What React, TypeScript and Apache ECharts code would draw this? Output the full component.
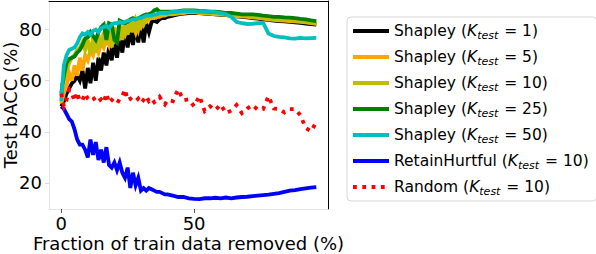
import React, { useEffect, useRef } from "react";
import * as echarts from "echarts";

const FONT = "DejaVu Sans";

const xValues = [
  0, 1, 2, 3, 4, 5, 6, 7, 8, 9, 10, 11, 12, 13, 14, 15, 16, 17, 18, 19, 20,
  21, 22, 23, 24, 25, 26, 27, 28, 29, 30, 31, 32, 33, 34, 35, 36, 37, 38, 39, 40,
  42, 44, 46, 48, 50, 52, 54, 56, 58, 60, 62, 64, 66, 68, 70, 72, 74, 76, 78,
  80, 82, 84, 86, 88, 90, 92, 94, 96,
];

const shapleyK1 = [
  50, 52, 55, 57, 59, 60, 62, 60, 64, 57, 65, 59, 67, 60, 69, 64, 71, 66, 73, 68, 75,
  69, 77, 71, 79, 73, 80, 74, 81, 75, 82, 75, 82.5, 79, 83, 83.5, 83, 84, 84.5, 84.5, 85,
  85.5, 86, 86.3, 86.5, 86.6, 86.5, 86.3, 86.2, 86, 85.8, 85.7, 85.5, 85.2, 85, 84.8, 84.5, 84.3, 84, 83.8,
  83.5, 83.3, 83.2, 83, 82.8, 82.6, 82.4, 82.2, 82,
];

const shapleyK5 = [
  51, 55, 58, 63, 60, 66, 62, 69, 64, 70, 68, 72, 70, 74, 71, 75, 73, 77, 74, 78, 76,
  79, 77, 80, 78, 81, 80, 82, 79, 83, 81, 83.5, 83, 84, 84.5, 84.5, 85, 85, 85.5, 85.5, 86,
  86, 86.3, 86.5, 86.8, 86.8, 86.5, 86.5, 86.3, 86, 86, 85.8, 85.5, 85.3, 85.2, 85, 84.8, 84.6, 84.3, 84,
  83.8, 83.6, 83.5, 83.3, 83.2, 83, 82.8, 82.5, 82.3,
];

const shapleyK10 = [
  58, 60, 64, 67, 69, 70, 72, 73, 75, 72, 76, 70, 77, 71, 78, 73, 79, 76, 80, 73, 81,
  75, 82, 76, 82.5, 78, 83, 79, 83.5, 80, 84, 82, 84.5, 84.5, 85, 85, 85.5, 85.5, 86, 86, 86,
  86.5, 86.5, 86.8, 87, 87, 86.8, 86.5, 86.5, 86.3, 86, 86, 85.8, 85.5, 85.5, 85.3, 85, 84.8, 84.5, 84.3,
  84, 84, 83.8, 83.6, 83.5, 83.3, 83, 82.7, 82.4,
];

const shapleyK25 = [
  55, 62, 67, 68.5, 69, 69.5, 71, 72, 74, 76.5, 77, 79, 77.5, 76, 79, 81, 82, 76, 82.5, 82, 76,
  75, 83.5, 83, 82.5, 83, 84, 84.5, 84, 84.5, 85, 85.5, 86, 86, 86.5, 87.5, 88, 87, 87, 87, 87,
  87, 87.2, 87.5, 87.5, 87.5, 87.3, 87.2, 87, 87, 86.8, 86.5, 86.5, 86.3, 86, 86, 86, 85.8, 85.5, 85.3,
  85, 85, 84.8, 84.7, 84.5, 84.2, 84, 83.6, 83.3,
];

const shapleyK50 = [
  52, 66, 70, 72, 72.5, 73, 74.5, 77, 78.5, 78, 79, 78, 79.5, 80, 79, 80.5, 81, 81.5, 80.5, 82, 82.5,
  82.5, 83, 82.5, 83, 83.5, 83.5, 84, 84, 84.5, 84.5, 85, 85.5, 85.5, 85.5, 86, 86, 86.5, 86.5, 86.5, 86.5,
  87, 87, 87.3, 87.2, 87.2, 87, 87, 87, 86.8, 86.5, 86, 85, 83, 82.5, 82.2, 82.3, 82.5, 82.6, 78.5,
  77.5, 77.2, 77, 76.6, 76.5, 76.8, 76.6, 76.7, 76.8,
];

const retainHurtful = [
  50, 49, 47, 45, 44, 41, 37, 35, 35, 33, 30, 37, 31, 36, 29, 33, 28, 34, 27, 26, 28,
  25, 28, 24, 22, 26, 18, 24, 19, 22, 17, 18, 17, 18, 17.5, 17, 16.5, 16.5, 16, 15.5, 15.5,
  15, 14.5, 14.5, 14, 13.8, 13.7, 14, 14, 14.2, 14, 14.3, 14, 14.3, 14.5, 14.6, 14.8, 15, 15.2, 15.4,
  15.7, 16, 16.5, 17, 17.2, 17.6, 17.9, 18.2, 18.4,
];

const randomK10 = [
  55, 50, 52.5, 56.5, 55, 52, 55.5, 52, 52.5, 55, 53, 52, 52.7, 53.5, 52, 52.7, 51.5, 55, 51.4, 52.5, 51.6,
  51, 53, 54, 56.6, 52.4, 53, 52, 52, 53, 51.3, 52.5, 54, 52, 53, 51.6, 52.5, 53.7, 52, 50.7, 52.5,
  52, 56.6, 52.4, 52.7, 50, 54, 48.1, 50, 48.5, 50.7, 47.3, 48.3, 50.5, 47.3, 49.1, 50.5, 48.6, 48.9, 54,
  49.1, 48.9, 47.6, 48.9, 48.9, 46.5, 41.5, 40.2, 43.8,
];

const xTicks = [0, 50];
const yTicks = [20, 40, 60, 80];

const seriesDefs = [
  { key: "k1", k: "1", label: "Shapley", values: shapleyK1, color: "#000000", dotted: false },
  { key: "k5", k: "5", label: "Shapley", values: shapleyK5, color: "#FFA500", dotted: false },
  { key: "k10", k: "10", label: "Shapley", values: shapleyK10, color: "#BFBF00", dotted: false },
  { key: "k25", k: "25", label: "Shapley", values: shapleyK25, color: "#008000", dotted: false },
  { key: "k50", k: "50", label: "Shapley", values: shapleyK50, color: "#00BFBF", dotted: false },
  { key: "rh", k: "10", label: "RetainHurtful", values: retainHurtful, color: "#0000FF", dotted: false },
  { key: "rnd", k: "10", label: "Random", values: randomK10, color: "#FF0000", dotted: true },
];

export default function App() {
  const ref = useRef<HTMLDivElement>(null);

  useEffect(() => {
    if (!ref.current) return;
    const chart = echarts.init(ref.current, undefined, { renderer: "svg" });
    const nameMap: Record<string, { label: string; k: string }> = {};
    seriesDefs.forEach((s) => (nameMap[s.key] = { label: s.label, k: s.k }));

    chart.setOption({
      animation: false,
      backgroundColor: "#ffffff",
      textStyle: { fontFamily: FONT },
      grid: {
        left: 49,
        top: 1,
        width: 279,
        height: 208,
        containLabel: false,
        outerBoundsMode: "none",
      },
      xAxis: [
        {
          type: "value",
          min: -4.6,
          max: 100.4,
          splitLine: { show: false },
          axisLine: { show: true, onZero: false, lineStyle: { color: "#e4e4e4", width: 1 } },
          axisTick: { show: true, customValues: xTicks, length: 4, lineStyle: { color: "#555" } },
          axisLabel: {
            customValues: xTicks,
            fontSize: 18,
            fontFamily: FONT,
            color: "#000",
            margin: 5,
          },
          name: "Fraction of train data removed (%)",
          nameLocation: "middle",
          nameGap: 25,
          nameMoveOverlap: false,
          nameTextStyle: { fontSize: 18, fontFamily: FONT, color: "#000" },
        },
        {
          type: "value",
          position: "top",
          min: -4.6,
          max: 100.4,
          splitLine: { show: false },
          axisLine: { show: true, onZero: false, lineStyle: { color: "#000", width: 1 } },
          axisTick: { show: false },
          axisLabel: { show: false },
        },
      ],
      yAxis: [
        {
          type: "value",
          min: 9.8,
          max: 91.2,
          splitLine: { show: false },
          axisLine: { show: true, onZero: false, lineStyle: { color: "#e4e4e4", width: 1 } },
          axisTick: { show: true, customValues: yTicks, length: 4, lineStyle: { color: "#dcdcdc" } },
          axisLabel: {
            customValues: yTicks,
            fontSize: 18,
            fontFamily: FONT,
            color: "#000",
            margin: 7,
          },
          name: "Test bACC (%)",
          nameLocation: "middle",
          nameGap: 30,
          nameMoveOverlap: false,
          nameTextStyle: { fontSize: 18, fontFamily: FONT, color: "#000" },
        },
        {
          type: "value",
          position: "right",
          min: 9.8,
          max: 91.2,
          splitLine: { show: false },
          axisLine: { show: true, onZero: false, lineStyle: { color: "#000", width: 1 } },
          axisTick: { show: false },
          axisLabel: { show: false },
        },
      ],
      legend: {
        orient: "vertical",
        left: 347,
        top: 17,
        padding: [4, 8, 4, 4],
        itemWidth: 36,
        itemHeight: 14,
        itemGap: 6,
        itemTextGap: 11,
        backgroundColor: "#ffffff",
        borderColor: "#d6d6d6",
        borderWidth: 1,
        borderRadius: 4,
        itemStyle: { opacity: 0 },
        lineStyle: { width: 4 },
        data: seriesDefs.map((s) => s.key),
        formatter: (name: string) => {
          const m = nameMap[name];
          return `{a|${m.label} (}{k|K}{s|test}{a| = ${m.k})}`;
        },
        textStyle: {
          fontFamily: FONT,
          fontSize: 15.5,
          color: "#000",
          rich: {
            a: { fontFamily: FONT, fontSize: 15.5, color: "#000", lineHeight: 20 },
            k: { fontFamily: FONT, fontSize: 15.5, fontStyle: "italic", color: "#000", lineHeight: 20 },
            s: {
              fontFamily: FONT,
              fontSize: 11,
              fontStyle: "italic",
              color: "#000",
              lineHeight: 20,
              padding: [9, 1, 0, 0],
            },
          },
        },
      },
      series: seriesDefs.map((s) => ({
        name: s.key,
        type: "line",
        xAxisIndex: 0,
        yAxisIndex: 0,
        symbol: "none",
        showSymbol: false,
        color: s.color,
        lineStyle: {
          color: s.color,
          width: 3.8,
          type: s.dotted ? [3.8, 5.5] : "solid",
          cap: "butt",
          join: "miter",
        },
        data: xValues.map((x, i) => [x, s.values[i]]),
      })),
    });

    return () => chart.dispose();
  }, []);

  return (
    <div
      ref={ref}
      style={{ position: "fixed", left: 0, top: 0, width: 596, height: 254 }}
    />
  );
}
